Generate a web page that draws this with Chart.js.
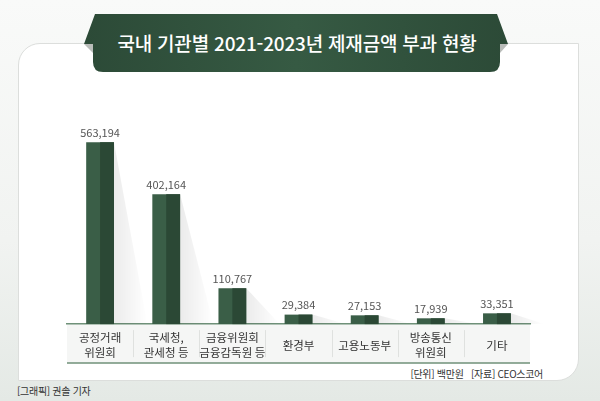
<!DOCTYPE html>
<html lang="ko">
<head>
<meta charset="utf-8">
<script src="https://cdn.jsdelivr.net/npm/chart.js@4"></script>
<style>
    html, body {
        margin: 0;
        padding: 0;
    }
    body {
        width: 600px;
        height: 401px;
        position: relative;
        overflow: hidden;
        background: linear-gradient(180deg, #f9faf9 0%, #f1f3f1 60%, #e4e9e5 100%);
        font-family: "Noto Sans CJK KR", "Noto Sans", sans-serif;
    }
    .panel {
        position: absolute;
        left: 18px;
        top: 43px;
        width: 559px;
        height: 336px;
        background: #fff;
        border: 1px solid #dcdedc;
        border-radius: 22px 0 22px 0;
    }
    svg.banner {
        position: absolute;
        left: 0;
        top: 0;
    }
    .title {
        position: absolute;
        left: 85px;
        width: 424px;
        top: 29px;
        text-align: center;
        color: #fff;
        font-size: 19px;
        line-height: 28px;
        font-weight: 500;
        letter-spacing: -0.2px;
    }
    .note {
        position: absolute;
        font-size: 10px;
        color: #333;
        letter-spacing: -0.3px;
        white-space: nowrap;
    }
    canvas {
        position: absolute;
        left: 0;
        top: 0;
    }
</style>
</head>
<body>
<div class="panel"></div>
<svg class="banner" width="600" height="80">
    <defs>
        <linearGradient id="bg" x1="0" y1="0" x2="1" y2="0">
            <stop offset="0" stop-color="#2c4a37"/>
            <stop offset="0.5" stop-color="#365a43"/>
            <stop offset="1" stop-color="#2c4a37"/>
        </linearGradient>
    </defs>
    <polygon points="84,44 93,44 93,53" fill="#b9bcb9"/>
    <polygon points="508,44 500,44 500,53" fill="#b9bcb9"/>
    <path d="M95,14 L497,14 L508,44 L500,44 L500,62 Q500,72 490,72 L103,72 Q93,72 93,62 L93,44 L84,44 Z" fill="url(#bg)"/>
</svg>
<div class="title">국내 기관별 2021-2023년 제재금액 부과 현황</div>
<div class="note" style="right: 57px; top: 366px;">[단위] 백만원&nbsp;&nbsp;&nbsp;[자료] CEO스코어</div>
<div class="note" style="left: 17px; top: 383px;">[그래픽] 권솔 기자</div>
<canvas id="chart" width="600" height="401"></canvas>
<script>
const categories = [
    ['공정거래', '위원회'],
    ['국세청,', '관세청 등'],
    ['금융위원회', '금융감독원 등'],
    '환경부',
    '고용노동부',
    ['방송통신', '위원회'],
    '기타',
];
const fines = [563194, 402164, 110767, 29384, 27153, 17939, 33351];

const green = '#3a5e47';
const darkGreen = '#2b4835';

// label band and separators under the axis labels, bar shadows, value labels
const backdrop = {
    id: 'backdrop',
    beforeDraw(chart) {
        const ctx = chart.ctx;
        const area = chart.chartArea;
        const bandTop = area.bottom;
        const bandBottom = area.bottom + 39;

        ctx.save();
        ctx.fillStyle = '#f5f6f5';
        ctx.fillRect(area.left, bandTop, area.right - area.left, bandBottom - bandTop);

        ctx.strokeStyle = '#dfe1df';
        ctx.lineWidth = 1;
        const step = (area.right - area.left) / categories.length;
        for (let i = 1; i < categories.length; i++) {
            const sx = Math.round(area.left + step * i) + 0.5;
            ctx.beginPath();
            ctx.moveTo(sx, bandTop + 6);
            ctx.lineTo(sx, bandBottom - 6);
            ctx.stroke();
        }

        ctx.strokeStyle = '#6f9179';
        ctx.lineWidth = 1.5;
        ctx.beginPath();
        ctx.moveTo(area.left, bandBottom);
        ctx.lineTo(area.right, bandBottom);
        ctx.stroke();
        ctx.restore();
    },
    beforeDatasetsDraw(chart) {
        const ctx = chart.ctx;
        ctx.save();
        chart.getDatasetMeta(0).data.forEach(bar => {
            const right = bar.x + bar.width / 2;
            const len = bar.width * 1.2;
            const g = ctx.createLinearGradient(right, 0, right + len, 0);
            g.addColorStop(0, 'rgba(0,0,0,0.08)');
            g.addColorStop(1, 'rgba(0,0,0,0)');
            ctx.fillStyle = g;
            ctx.beginPath();
            ctx.moveTo(right, bar.y);
            ctx.lineTo(right + len, bar.base);
            ctx.lineTo(right, bar.base);
            ctx.closePath();
            ctx.fill();
        });
        ctx.restore();
    },
    afterDatasetsDraw(chart) {
        const ctx = chart.ctx;
        ctx.save();
        chart.getDatasetMeta(0).data.forEach((bar, i) => {
            // darker right half
            ctx.fillStyle = darkGreen;
            ctx.fillRect(bar.x, bar.y, bar.width / 2, bar.base - bar.y);

            ctx.fillStyle = '#555';
            ctx.font = '11px "Noto Sans CJK KR", "Noto Sans", sans-serif';
            ctx.textAlign = 'center';
            ctx.textBaseline = 'bottom';
            ctx.fillText(fines[i].toLocaleString('en-US'), bar.x, bar.y - 4);
        });
        ctx.restore();
    }
};

new Chart(document.getElementById('chart'), {
    type: 'bar',
    data: {
        labels: categories,
        datasets: [{
            data: fines,
            backgroundColor: green,
            categoryPercentage: 1,
            barPercentage: 0.42,
        }]
    },
    options: {
        responsive: false,
        animation: false,
        layout: {
            padding: { left: 67, right: 70, top: 120, bottom: 27 }
        },
        plugins: {
            legend: { display: false },
            tooltip: { enabled: false },
        },
        scales: {
            x: {
                grid: { display: false },
                border: { color: '#6f9179', width: 1.5 },
                ticks: {
                    color: '#333',
                    padding: 6,
                    autoSkip: false,
                    maxRotation: 0,
                    minRotation: 0,
                    crossAlign: 'center',
                    font: { family: '"Noto Sans CJK KR", "Noto Sans", sans-serif', size: 11.5, lineHeight: 1.3 },
                },
            },
            y: {
                display: false,
                min: 0,
                max: 632000,
            }
        }
    },
    plugins: [backdrop],
});
</script>
</body>
</html>
